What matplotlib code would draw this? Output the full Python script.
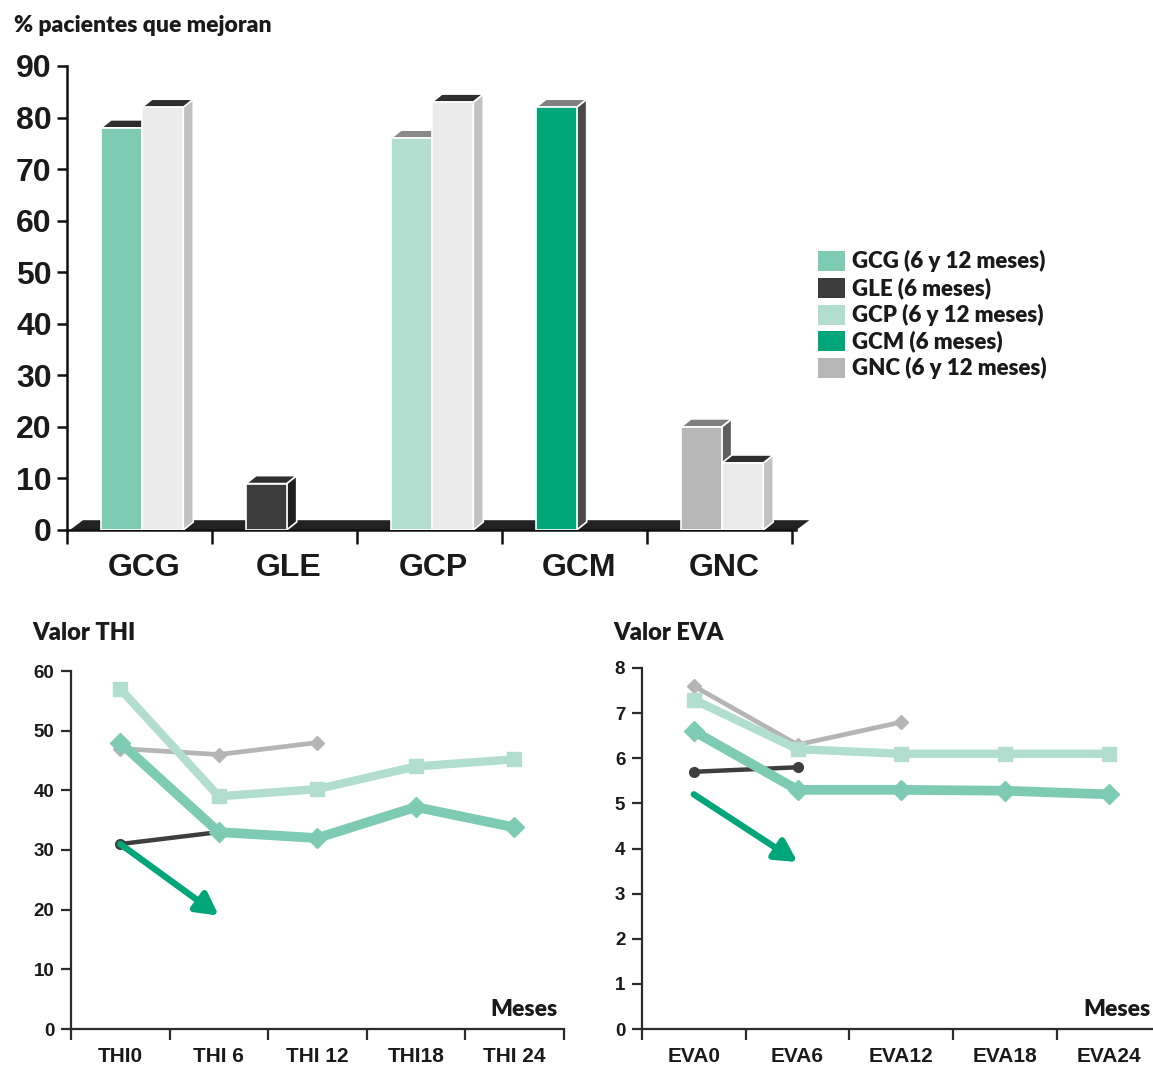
import matplotlib
matplotlib.use("Agg")
import matplotlib.pyplot as plt
from matplotlib.patches import Polygon, Rectangle

W, H, DPI = 1153, 1069, 100

# ---- bar chart data: % of patients improving ----
groups = ["GCG", "GLE", "GCP", "GCM", "GNC"]
pct_6m = [78, 9, 76, 82, 20]
pct_12m = [82, None, 83, None, 13]

front_6m = ["#7DCBB3", "#3C3C3C", "#B1DECE", "#00A67A", "#B7B7B7"]
top_6m = ["#2E2E2E", "#2E2E2E", "#8A8A8A", "#808080", "#7E7E7E"]
side_6m = ["#2E2E2E", "#1F1F1F", "#C4C4C4", "#4A4A4A", "#5E5E5E"]
front_12m, top_12m, side_12m = "#EBEBEB", "#2E2E2E", "#C2C2C2"

legend_labels = ["GCG (6 y 12 meses)", "GLE (6 meses)", "GCP (6 y 12 meses)",
                 "GCM (6 meses)", "GNC (6 y 12 meses)"]
legend_colors = ["#7DCBB3", "#3C3C3C", "#B1DECE", "#00A67A", "#B7B7B7"]

# ---- line chart data: THI score over time ----
thi_labels = ["THI0", "THI 6", "THI 12", "THI18", "THI 24"]
thi_gcp = [57, 39, 40.2, 44, 45.2]
thi_gnc = [47, 46, 48]
thi_gcg = [48, 33, 32, 37.2, 33.8]
thi_gle = [31, 33]
thi_gcm = [31, 19]

# ---- line chart data: EVA score over time ----
eva_labels = ["EVA0", "EVA6", "EVA12", "EVA18", "EVA24"]
eva_gcp = [7.3, 6.2, 6.1, 6.1, 6.1]
eva_gnc = [7.6, 6.3, 6.8]
eva_gcg = [6.6, 5.3, 5.3, 5.28, 5.2]
eva_gle = [5.7, 5.8]
eva_gcm = [5.2, 3.7]

C_GCG, C_GLE, C_GCP, C_GCM, C_GNC = "#7DCBB3", "#3E3E3E", "#B1DECE", "#00A67A", "#B5B5B5"
AXIS = "#2B2B2B"
NUM_FONT = "Liberation Sans"
TXT_FONT = ["Lato", "DejaVu Sans"]
TXT_WEIGHT = "heavy"

fig = plt.figure(figsize=(W / DPI, H / DPI), dpi=DPI)


def add_axes_px(left, top, right, bottom):
    return fig.add_axes([left / W, 1 - bottom / H, (right - left) / W, (bottom - top) / H])


# ================= 3D-style bar chart =================
unit_px = 145.0
y_px = 5.156
ax = add_axes_px(67, 530 - 92 * y_px, 67 + 5.3 * unit_px, 530)
ax.set_xlim(0, 5.3)
ax.set_ylim(0, 92)
DX, DY = 10 / unit_px, 8 / y_px


def bar3d(x0, w, h, front, top, side, z):
    ax.add_patch(Polygon([(x0 + w, 0), (x0 + w + DX, DY), (x0 + w + DX, h + DY), (x0 + w, h)],
                         closed=True, fc=side, ec="white", lw=1.2, zorder=z))
    ax.add_patch(Polygon([(x0, h), (x0 + DX, h + DY), (x0 + w + DX, h + DY), (x0 + w, h)],
                         closed=True, fc=top, ec="white", lw=1.2, zorder=z))
    ax.add_patch(Rectangle((x0, 0), w, h, fc=front, ec="white", lw=1.2, zorder=z))


# dark floor slab
ax.add_patch(Polygon([(0.02, 0), (5.03, 0), (5.03 + 0.09, 1.9), (0.02 + 0.09, 1.9)],
                     closed=True, fc="#222222", ec="none", zorder=1))

for i, g in enumerate(groups):
    bar3d(i + 0.235, 0.28, pct_6m[i], front_6m[i], top_6m[i], side_6m[i], 3)
    if pct_12m[i] is not None:
        bar3d(i + 0.517, 0.285, pct_12m[i], front_12m, top_12m, side_12m, 4)
    ax.text(i + 0.53, -38 / (92 * y_px), g, transform=ax.get_xaxis_transform(),
            ha="center", va="center", fontsize=23, fontweight="bold",
            family=NUM_FONT, color="#1A1A1A")

for s in ["top", "right"]:
    ax.spines[s].set_visible(False)
ax.spines["left"].set_bounds(0, 90)
ax.spines["bottom"].set_bounds(0, 5.03)
for s in ["left", "bottom"]:
    ax.spines[s].set_linewidth(1.8)
    ax.spines[s].set_color("#111111")
ax.set_yticks(range(0, 91, 10))
ax.set_xticks(range(0, 6))
ax.set_xticklabels([])
ax.tick_params(axis="y", length=7, width=1.8, pad=4, labelsize=23, color="#111111")
ax.tick_params(axis="x", length=10, width=1.8, color="#111111")
for t in ax.get_yticklabels():
    t.set_fontweight("bold")
    t.set_family(NUM_FONT)
    t.set_color("#1A1A1A")

fig.text(14 / W, 1 - 25 / H, "% pacientes que mejoran", family=TXT_FONT,
         fontweight=TXT_WEIGHT, fontsize=16.5, va="center", ha="left", color="#1A1A1A")

# legend
for k, (lab, col) in enumerate(zip(legend_labels, legend_colors)):
    yc = 261 + k * 26.8
    fig.patches.append(Rectangle((818 / W, 1 - (yc + 10) / H), 27 / W, 20 / H,
                                 transform=fig.transFigure, fc=col, ec="none"))
    fig.text(852 / W, 1 - yc / H, lab, family=TXT_FONT, fontweight=TXT_WEIGHT,
             fontsize=16, va="center", ha="left", color="#1A1A1A")


# ================= line charts =================
def line_panel(left, top, spacing, ymax, ystep, labels, gcp, gnc, gcg, gle, gcm, title, title_x):
    a = add_axes_px(left, top, left + 5 * spacing, 1029)
    a.set_xlim(-0.5, 4.5)
    a.set_ylim(0, ymax)
    a.plot(range(len(gnc)), gnc, color=C_GNC, lw=3.4, marker="D", ms=7, zorder=2, clip_on=False)
    a.plot(range(len(gcp)), gcp, color=C_GCP, lw=6, marker="s", ms=9.5, zorder=3, clip_on=False)
    a.plot(range(len(gle)), gle, color=C_GLE, lw=3.2, marker="o", ms=7, zorder=4, clip_on=False)
    a.plot(range(len(gcg)), gcg, color=C_GCG, lw=7, marker="D", ms=10.5, zorder=5, clip_on=False)
    a.annotate("", xy=(1, gcm[1]), xytext=(0, gcm[0]), zorder=6,
               arrowprops=dict(arrowstyle="-|>,head_length=0.5,head_width=0.27",
                               mutation_scale=26, lw=4.6, color=C_GCM,
                               shrinkA=0, shrinkB=0))
    for s in ["top", "right"]:
        a.spines[s].set_visible(False)
    for s in ["left", "bottom"]:
        a.spines[s].set_linewidth(1.6)
        a.spines[s].set_color(AXIS)
    a.set_yticks(range(0, ymax + 1, ystep))
    a.set_xticks([-0.5, 0.5, 1.5, 2.5, 3.5, 4.5])
    a.set_xticklabels([])
    a.set_xticks(range(5), minor=True)
    a.set_xticklabels(labels, minor=True)
    a.tick_params(axis="x", which="major", length=8, width=1.6, color=AXIS)
    a.tick_params(axis="x", which="minor", length=0, pad=13, labelsize=15, labelcolor="#1A1A1A")
    a.tick_params(axis="y", length=7, width=1.6, pad=5, labelsize=13.5, color=AXIS, labelcolor="#1A1A1A")
    for t in a.get_yticklabels() + a.get_xticklabels(minor=True):
        t.set_fontweight("bold")
        t.set_family(NUM_FONT)
    fig.text(title_x / W, 1 - 633 / H, title, family=TXT_FONT, fontweight=TXT_WEIGHT,
             fontsize=17, va="center", ha="left", color="#1A1A1A")
    return a


ax_thi = line_panel(71, 671, 98.5, 60, 10, thi_labels, thi_gcp, thi_gnc, thi_gcg, thi_gle, thi_gcm,
                    "Valor THI", 32)
ax_eva = line_panel(642, 668, 103.7, 8, 1, eva_labels, eva_gcp, eva_gnc, eva_gcg, eva_gle, eva_gcm,
                    "Valor EVA", 613)

fig.text(558 / W, 1 - 1009 / H, "Meses", family=TXT_FONT, fontweight=TXT_WEIGHT,
         fontsize=16.5, va="center", ha="right", color="#1A1A1A")
fig.text(1151 / W, 1 - 1009 / H, "Meses", family=TXT_FONT, fontweight=TXT_WEIGHT,
         fontsize=16.5, va="center", ha="right", color="#1A1A1A")

fig.savefig("out.png", dpi=DPI)
